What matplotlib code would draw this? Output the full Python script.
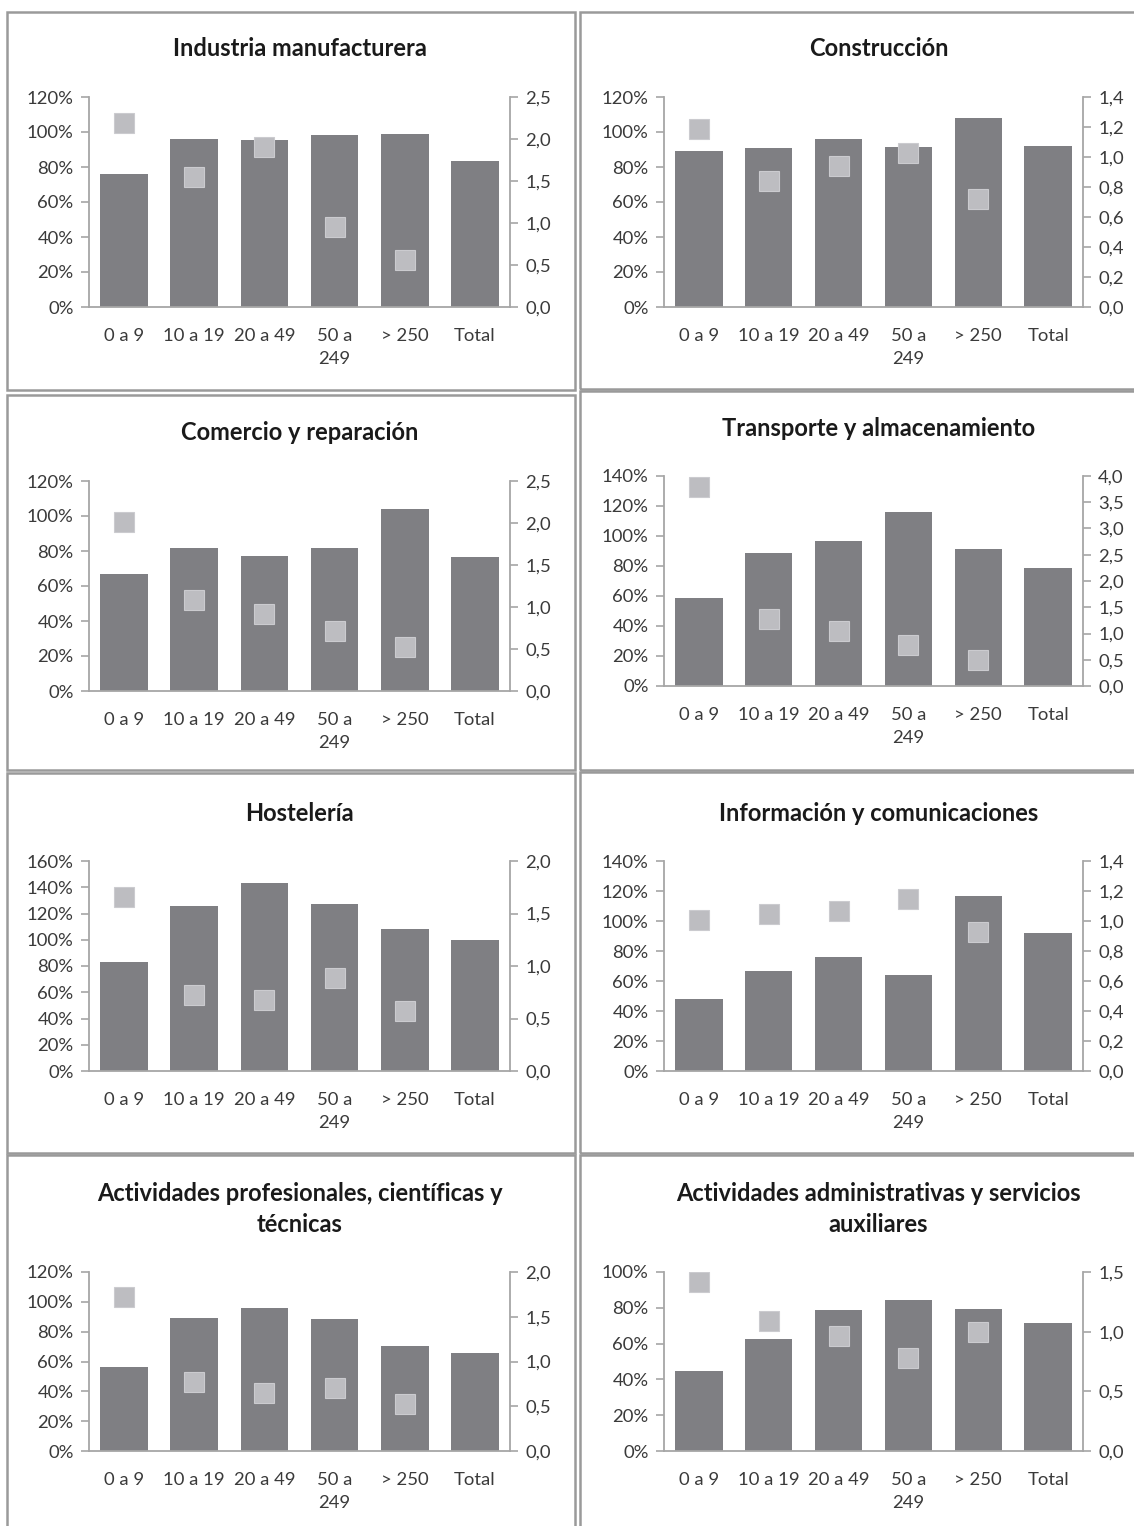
import numpy as np
import matplotlib
matplotlib.use("Agg")
import matplotlib.pyplot as plt
from matplotlib.patches import Rectangle
from matplotlib.ticker import FuncFormatter, MultipleLocator

plt.rcParams['font.family'] = ['Lato', 'DejaVu Sans']

W, H = 1134, 1526
DPI = 100

categories = ["0 a 9", "10 a 19", "20 a 49", "50 a\n249", "> 250", "Total"]

titles = [
    "Industria manufacturera",
    "Construcción",
    "Comercio y reparación",
    "Transporte y almacenamiento",
    "Hostelería",
    "Información y comunicaciones",
    "Actividades profesionales, científicas y\ntécnicas",
    "Actividades administrativas y servicios\nauxiliares",
]

# Bar series (percent), one value per size class plus the total
bars_industria = [75.8, 96.2, 95.2, 98.5, 99.0, 83.2]
bars_construccion = [89.3, 90.7, 95.8, 91.4, 108.0, 91.8]
bars_comercio = [67.1, 82.0, 77.4, 81.6, 104.0, 76.3]
bars_transporte = [58.5, 88.6, 96.4, 116.3, 91.0, 78.4]
bars_hosteleria = [82.9, 126.0, 143.0, 127.5, 108.3, 100.0]
bars_informacion = [48.1, 66.8, 75.7, 63.9, 116.9, 92.1]
bars_profesionales = [56.2, 88.9, 95.8, 88.4, 70.1, 65.8]
bars_administrativas = [44.6, 62.5, 78.7, 84.1, 79.1, 71.6]

# Ratio series on the secondary axis (size classes only)
ratio_industria = [2.19, 1.55, 1.90, 0.95, 0.56]
ratio_construccion = [1.19, 0.84, 0.94, 1.03, 0.72]
ratio_comercio = [2.01, 1.08, 0.92, 0.71, 0.52]
ratio_transporte = [3.79, 1.28, 1.05, 0.79, 0.50]
ratio_hosteleria = [1.66, 0.72, 0.68, 0.89, 0.57]
ratio_informacion = [1.01, 1.05, 1.07, 1.15, 0.93]
ratio_profesionales = [1.72, 0.77, 0.65, 0.70, 0.52]
ratio_administrativas = [1.42, 1.09, 0.96, 0.78, 1.00]

# Axis ranges
left_max = [120, 120, 120, 140, 160, 140, 120, 100]
right_max = [2.5, 1.4, 2.5, 4.0, 2.0, 1.4, 2.0, 1.5]
right_step = [0.5, 0.2, 0.5, 0.5, 0.5, 0.2, 0.5, 0.5]

bars_all = [bars_industria, bars_construccion, bars_comercio, bars_transporte,
            bars_hosteleria, bars_informacion, bars_profesionales, bars_administrativas]
ratio_all = [ratio_industria, ratio_construccion, ratio_comercio, ratio_transporte,
             ratio_hosteleria, ratio_informacion, ratio_profesionales, ratio_administrativas]

BAR_COLOR = "#7f7f83"
SQ_COLOR = "#bdbdc1"
AXIS_COLOR = "#a6a6a6"
TEXT_COLOR = "#3a3a3a"
TITLE_COLOR = "#1a1a1a"
BORDER_COLOR = "#9a9a9a"

fig = plt.figure(figsize=(W / DPI, H / DPI), dpi=DPI)
fig.patch.set_facecolor("white")

# Panel frames in pixel units: (x0, x1, y0, y1)
frames = [
    (7, 575, 12, 390), (580, 1145, 12, 389),
    (7, 575, 395, 770), (580, 1145, 391, 770),
    (7, 575, 773, 1153), (580, 1145, 772, 1153),
    (7, 575, 1155, 1540), (580, 1145, 1155, 1540),
]
# Plot areas in pixel units: (x0, x1, ytop, ybottom), title centre y
plots = [
    (89, 510, 97, 307, 48), (664, 1083, 97, 307, 48),
    (89, 510, 481, 691, 433), (664, 1083, 476, 686, 428),
    (89, 510, 861, 1071, 813), (664, 1083, 861, 1071, 813),
    (89, 510, 1272, 1451, 1209), (664, 1083, 1272, 1451, 1209),
]

for (x0, x1, y0, y1) in frames:
    fig.patches.append(Rectangle((x0 / W, 1 - y1 / H), (x1 - x0) / W, (y1 - y0) / H,
                                 transform=fig.transFigure, fill=False,
                                 edgecolor=BORDER_COLOR, linewidth=1.8))

x = np.arange(len(categories))

for i in range(8):
    px0, px1, pyt, pyb, ty = plots[i]
    ax = fig.add_axes([px0 / W, 1 - pyb / H, (px1 - px0) / W, (pyb - pyt) / H])
    ax.bar(x, bars_all[i], width=0.68, color=BAR_COLOR, zorder=2)
    ax.set_xlim(-0.5, len(categories) - 0.5)
    ax.set_ylim(0, left_max[i])
    ax.yaxis.set_major_locator(MultipleLocator(20))
    ax.yaxis.set_major_formatter(FuncFormatter(lambda v, p: f"{v:.0f}%"))
    ax.set_xticks(x)
    ax.set_xticklabels(categories, linespacing=1.55)
    ax.tick_params(axis="x", length=0, pad=15, labelsize=13.3, colors=TEXT_COLOR)
    ax.tick_params(axis="y", length=6, width=1.2, color=AXIS_COLOR, pad=5,
                   labelsize=13.3, labelcolor=TEXT_COLOR, direction="out")
    for s in ("top", "right"):
        ax.spines[s].set_visible(False)
    for s in ("left", "bottom"):
        ax.spines[s].set_color(AXIS_COLOR)
        ax.spines[s].set_linewidth(1.3)

    ax2 = ax.twinx()
    ax2.plot(x[:len(ratio_all[i])], ratio_all[i], linestyle="none", marker="s",
             markersize=14.5, markerfacecolor=SQ_COLOR, markeredgecolor="#cbcbcf",
             markeredgewidth=0.8, zorder=3)
    ax2.set_ylim(0, right_max[i])
    ax2.yaxis.set_major_locator(MultipleLocator(right_step[i]))
    ax2.yaxis.set_major_formatter(FuncFormatter(lambda v, p: f"{v:.1f}".replace(".", ",")))
    ax2.tick_params(axis="y", length=6, width=1.2, color=AXIS_COLOR, pad=5,
                    labelsize=13.3, labelcolor=TEXT_COLOR, direction="out")
    for s in ("top", "left", "bottom"):
        ax2.spines[s].set_visible(False)
    ax2.spines["right"].set_color(AXIS_COLOR)
    ax2.spines["right"].set_linewidth(1.3)

    cx = (px0 + px1) / 2 + (5 if i % 2 else 0)
    fig.text(cx / W, 1 - ty / H, titles[i], ha="center", va="center",
             fontsize=17, fontweight="bold", color=TITLE_COLOR, linespacing=1.4)

fig.savefig("out.png", dpi=DPI, facecolor="white")
